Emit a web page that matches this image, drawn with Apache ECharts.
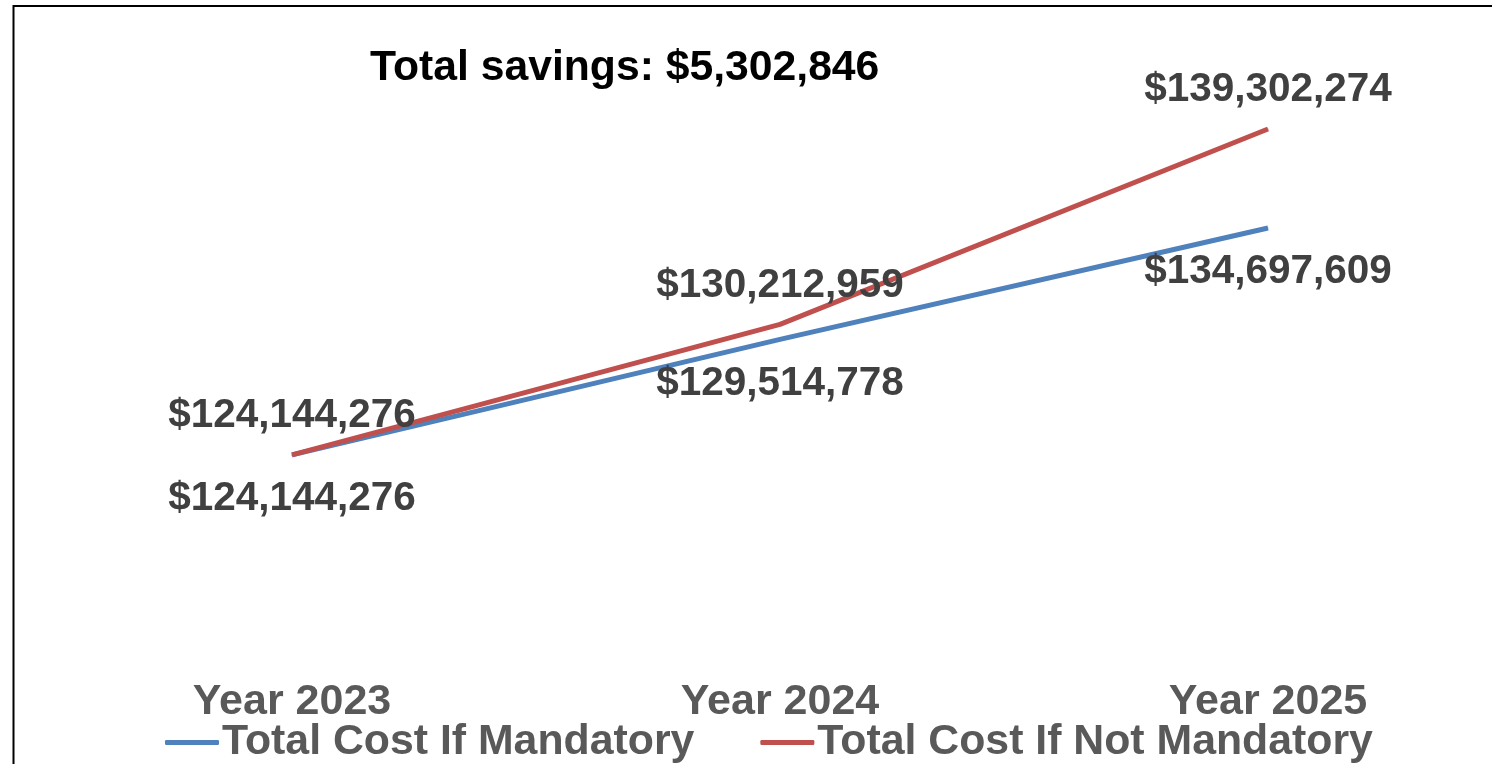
<!DOCTYPE html>
<html>
<head>
<meta charset="utf-8">
<script src="https://cdn.jsdelivr.net/npm/echarts@6/dist/echarts.min.js"></script>
<style>
  html, body { margin: 0; padding: 0; background: #fff; }
  #chart { width: 1492px; height: 764px; }
</style>
</head>
<body>
<div id="chart"></div>
<script>
const years = ['Year 2023', 'Year 2024', 'Year 2025'];
const mandatory = [124144276, 129514778, 134697609];
const notMandatory = [124144276, 130212959, 139302274];
const seriesNames = ['Total Cost If Mandatory', 'Total Cost If Not Mandatory'];
const savingsText = 'Total savings: $5,302,846';

const fmt = v => '$' + v.toLocaleString('en-US');
const font = '"Liberation Sans", Arial, sans-serif';

const chart = echarts.init(document.getElementById('chart'));

const labelStyle = (pos, dist) => ({
  show: true,
  position: pos,
  distance: dist,
  fontFamily: font,
  fontWeight: 'bold',
  fontSize: 40.5,
  color: '#404040',
  formatter: p => fmt(p.value),
});

chart.setOption({
  animation: false,
  grid: {
    left: 48,
    width: 1464,
    top: 114,
    height: 537.5,
    containLabel: false,
    outerBoundsMode: 'none',
  },
  graphic: [
    {
      type: 'rect',
      shape: { x: 13.5, y: 6, width: 1600, height: 900 },
      style: { fill: 'none', stroke: '#000', lineWidth: 2 },
      silent: true,
    },
    {
      type: 'text',
      left: 370,
      top: 47,
      style: {
        text: savingsText,
        fontFamily: font,
        fontWeight: 'bold',
        fontSize: 42.7,
        fill: '#000',
      },
    },
  ],
  legend: {
    left: 160,
    top: 716,
    itemWidth: 54,
    itemHeight: 5,
    itemGap: 66,
    icon: 'roundRect',
    textStyle: {
      fontFamily: font,
      fontWeight: 'bold',
      fontSize: 42.8,
      color: '#595959',
      padding: [0, 0, 0, -2],
    },
    data: seriesNames,
  },
  xAxis: {
    type: 'category',
    data: years,
    axisLine: { show: false },
    axisTick: { show: false },
    axisLabel: {
      margin: 29,
      fontFamily: font,
      fontWeight: 'bold',
      fontSize: 43,
      color: '#595959',
    },
  },
  yAxis: {
    type: 'value',
    min: 115000000,
    max: 140000000,
    show: false,
    splitLine: { show: false },
  },
  series: [
    {
      name: seriesNames[0],
      type: 'line',
      data: mandatory,
      symbol: 'circle',
      symbolSize: 1,
      color: '#4f81bd',
      lineStyle: { width: 5, color: '#4f81bd' },
      label: labelStyle('bottom', 23),
    },
    {
      name: seriesNames[1],
      type: 'line',
      data: notMandatory,
      symbol: 'circle',
      symbolSize: 1,
      color: '#c0504d',
      lineStyle: { width: 5, color: '#c0504d' },
      label: labelStyle('top', 18),
    },
  ],
});

window.addEventListener('resize', function () {
  chart.resize();
});
</script>
</body>
</html>
